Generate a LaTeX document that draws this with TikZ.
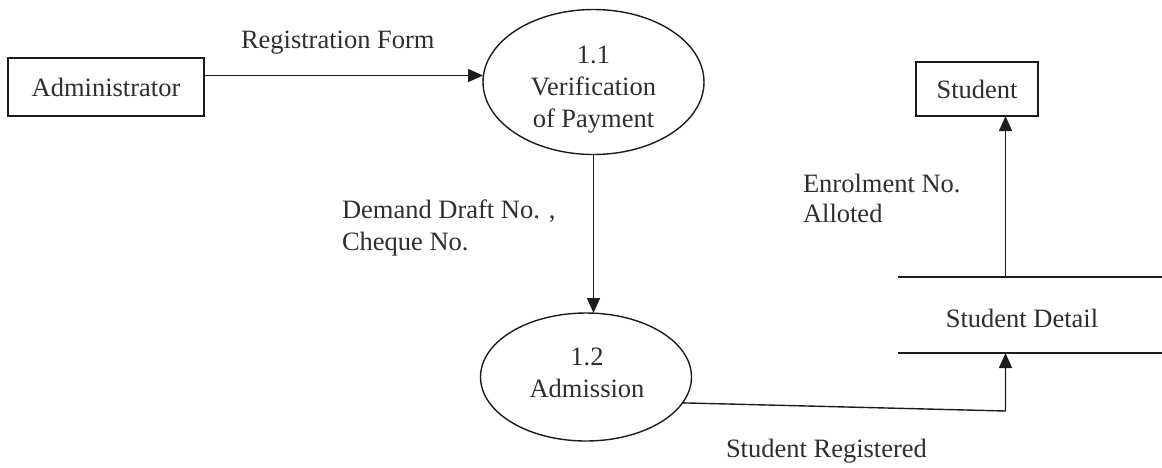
\documentclass[tikz,border=0pt]{standalone}
\usepackage{fontspec}
\setmainfont{Liberation Serif}
\usetikzlibrary{arrows.meta,shapes.geometric,calc}
\definecolor{ink}{HTML}{1c1c1c}
\definecolor{txt}{HTML}{2e2e2e}
\begin{document}
\begin{tikzpicture}[x=1pt,y=-1pt,
  every node/.style={font=\fontsize{26.5}{32}\selectfont, text=txt, inner sep=0pt, outer sep=0pt},
  line/.style={draw=ink, line width=1.4pt},
  flow/.style={line, -{Triangle[length=15pt,width=13pt]}},
  entity/.style={line, rectangle},
  process/.style={line, ellipse},
  lbl/.style={anchor=base west, align=left}
]
\useasboundingbox (0,0) rectangle (1162,467);

% external entities
\node[entity, minimum width=196pt, minimum height=58pt] (admin) at (106,87) {Administrator};
\node[entity, minimum width=122pt, minimum height=54pt] (student) at (977,89) {Student};

% processes
\node[process, minimum width=221pt, minimum height=145pt] (p11) at (593.5,82) {};
\node[align=center] (p11t) at (593.5,89.5) {1.1\\Verification\\of Payment};
\node[process, minimum width=211pt, minimum height=128pt] (p12) at (586,377) {};
\node[align=center] (p12t) at (587,373) {1.2\\Admission};

% data store
\draw[line] (898,277) -- (1162,277);
\draw[line] (898,353) -- (1162,353);
\node (storet) at (1022,318.5) {Student Detail};
\coordinate (stt) at (1005.5,277);
\coordinate (stb) at (1005.5,353);
\coordinate (bend) at (1005.5,411);

% flows
\draw[flow] ([yshift=11.5pt]admin.east) -- ([yshift=11.5pt]admin.east -| p11.west);
\draw[flow] (p11.south) -- (p11.south |- p12.north);
\draw[flow] (p12.-15) -- (bend) -- (stb);
\draw[flow] (stt) -- (stt |- student.south);

% labels
\node[lbl] (lreg) at (241,48) {Registration Form};
\node[lbl] (ldd) at (342,250) {Demand Draft No. ,\\Cheque No.};
\node[lbl] (lenr) at (803,222) {Enrolment No.\\[-2pt]Alloted};
\node[lbl] (lsr) at (726,457) {Student Registered};
\end{tikzpicture}
\end{document}
